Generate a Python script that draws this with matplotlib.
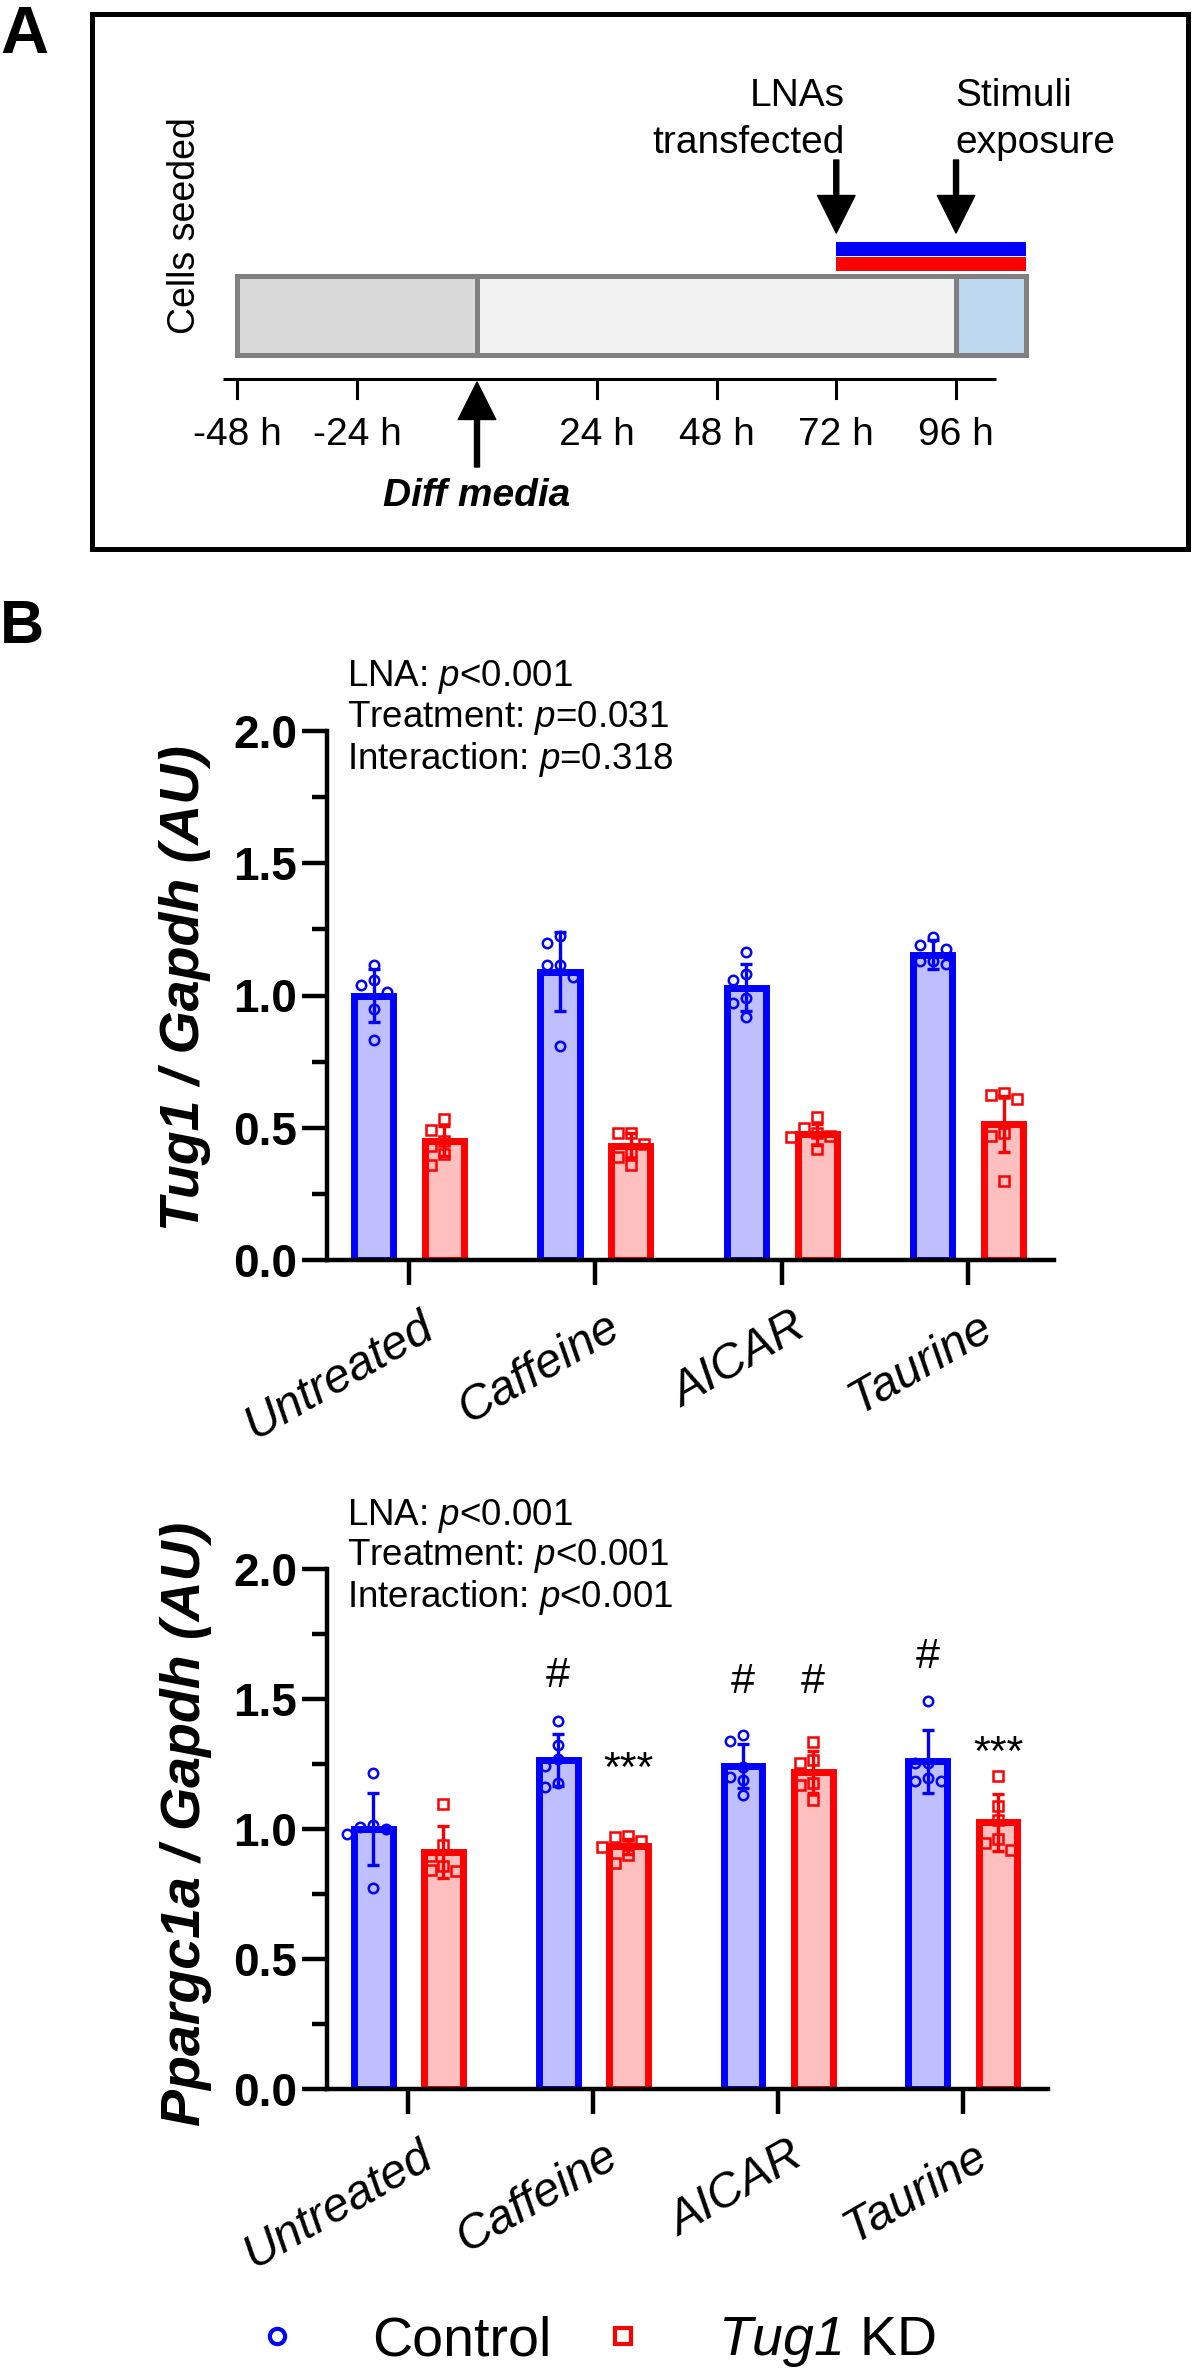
# Timeline schematic (A) and Tug1 / Ppargc1a expression bar charts (B)

import matplotlib
matplotlib.use("Agg")
import matplotlib.pyplot as plt
import matplotlib.transforms as mtransforms
from matplotlib.lines import Line2D
from matplotlib.patches import Rectangle
from matplotlib.ticker import FixedLocator, MultipleLocator
import numpy as np

plt.rcParams["font.family"] = ["Liberation Sans", "DejaVu Sans"]
plt.rcParams["mathtext.fontset"] = "custom"
plt.rcParams["mathtext.rm"] = "Liberation Sans"
plt.rcParams["mathtext.it"] = "Liberation Sans:italic"
plt.rcParams["mathtext.bf"] = "Liberation Sans:bold"
# italic digits too (mathtext keeps digits upright inside \mathit)
plt.rcParams["mathtext.sf"] = "Liberation Sans:italic"

# ---- data ----
treatments = ["Untreated", "Caffeine", "AICAR", "Taurine"]
y_ticks = [0.0, 0.5, 1.0, 1.5, 2.0]
y_tick_labels = ["0.0", "0.5", "1.0", "1.5", "2.0"]

timeline_ticks = [-48, -24, 24, 48, 72, 96]
seed_time = -48
diff_media_time = 0
lna_time = 72
stimuli_time = 96
end_time = 110

tug1_ctrl_mean = [1.00, 1.09, 1.03, 1.155]
tug1_ctrl_sd = [0.10, 0.15, 0.09, 0.055]
tug1_kd_mean = [0.45, 0.43, 0.475, 0.515]
tug1_kd_sd = [0.055, 0.05, 0.04, 0.105]
tug1_ctrl_points = [
    [1.116, 1.06, 1.04, 1.015, 0.95, 0.83],
    [1.225, 1.20, 1.116, 1.116, 1.07, 0.81],
    [1.165, 1.08, 1.06, 0.99, 0.97, 0.92],
    [1.22, 1.19, 1.176, 1.13, 1.12, 1.13],
]
tug1_kd_points = [
    [0.534, 0.49, 0.45, 0.43, 0.40, 0.36],
    [0.48, 0.48, 0.44, 0.41, 0.39, 0.36],
    [0.54, 0.50, 0.48, 0.47, 0.465, 0.42],
    [0.63, 0.624, 0.61, 0.48, 0.47, 0.30],
]
tug1_stats = ["LNA: $\\mathit{p}$<0.001",
              "Treatment: $\\mathit{p}$=0.031",
              "Interaction: $\\mathit{p}$=0.318"]

ppargc_ctrl_mean = [1.00, 1.264, 1.243, 1.26]
ppargc_ctrl_sd = [0.14, 0.10, 0.085, 0.12]
ppargc_kd_mean = [0.91, 0.933, 1.219, 1.026]
ppargc_kd_sd = [0.10, 0.03, 0.08, 0.11]
ppargc_ctrl_points = [
    [1.215, 1.017, 1.007, 1.00, 0.98, 0.773],
    [1.414, 1.324, 1.27, 1.241, 1.177, 1.16],
    [1.36, 1.34, 1.24, 1.20, 1.19, 1.13],
    [1.493, 1.254, 1.252, 1.196, 1.183, 1.183],
]
ppargc_kd_points = [
    [1.097, 0.94, 0.895, 0.859, 0.841, 0.837],
    [0.975, 0.97, 0.955, 0.93, 0.90, 0.87],
    [1.333, 1.267, 1.254, 1.177, 1.17, 1.113],
    [1.205, 1.09, 1.036, 0.96, 0.945, 0.92],
]
ppargc_stats = ["LNA: $\\mathit{p}$<0.001",
                "Treatment: $\\mathit{p}$<0.001",
                "Interaction: $\\mathit{p}$<0.001"]
# (series, treatment index, baseline value)
ppargc_hash = [("ctrl", 1, 1.548), ("ctrl", 2, 1.524), ("kd", 2, 1.524), ("ctrl", 3, 1.62)]
ppargc_stars = [("kd", 1, 1.186), ("kd", 3, 1.248)]

# ---- style ----
BLUE = "#0000FF"
BLUE_FILL = "#BFBFFF"
RED = "#FF0000"
RED_FILL = "#FFBFBF"
W, H = 1192, 2371
BAR_OFFSET = 0.19
BAR_WIDTH = 0.21


def fx(px):
    return px / W


def fy(py):
    return 1 - py / H


def swarm_slots(values, px_per_unit, step_px=13, diam_px=13):
    """Spread overlapping points sideways, like a column scatter."""
    values = np.asarray(values)
    order = np.argsort(values)[::-1]
    placed = []
    slots = np.zeros(len(values))
    for i in order:
        for slot in [0, -1, 1, -2, 2]:
            if all(np.hypot((slot - s) * step_px, (values[i] - v) * px_per_unit) >= diam_px
                   for s, v in placed):
                break
        placed.append((slot, values[i]))
        slots[i] = slot
    return slots


fig = plt.figure(figsize=(W / 100, H / 100), dpi=100)

# ---------------- Panel A ----------------
px0, px_per_h = 477, 4.99
ax_a = fig.add_axes([0, fy(560), 1, 560 / H])
ax_a.set_xlim((0 - px0) / px_per_h, (W - px0) / px_per_h)
ax_a.set_ylim(560, 0)
ax_a.axis("off")

fig.add_artist(Rectangle((fx(92), fy(549)), (1188 - 92) / W, (549 - 14) / H,
                         transform=fig.transFigure, fill=False, lw=3.6, ec="black"))

phases = [(seed_time, diff_media_time, "#D9D9D9"),
          (diff_media_time, stimuli_time, "#F2F2F2"),
          (stimuli_time, end_time, "#BDD7EE")]
for start, stop, col in phases:
    ax_a.add_patch(Rectangle((start, 275.5), stop - start, 79, fc=col, ec="#808080", lw=3.6))
ax_a.add_patch(Rectangle((lna_time, 242), end_time - lna_time, 14, fc=BLUE, lw=0))
ax_a.add_patch(Rectangle((lna_time, 257), end_time - lna_time, 14, fc=RED, lw=0))

ax_a.plot([-51, 104], [379, 379], color="black", lw=2.2, solid_capstyle="butt")
for t in timeline_ticks:
    ax_a.plot([t, t], [379, 398], color="black", lw=2.2)
    ax_a.text(t, 445, f"{t} h", ha="center", va="baseline", fontsize=28)

arrow = dict(facecolor="black", edgecolor="black", width=3.6, headwidth=27,
             headlength=27, shrink=0)
ax_a.annotate("", xy=(diff_media_time, 382), xytext=(diff_media_time, 467), arrowprops=arrow)
ax_a.annotate("", xy=(lna_time, 233), xytext=(lna_time, 160), arrowprops=arrow)
ax_a.annotate("", xy=(stimuli_time, 233), xytext=(stimuli_time, 160), arrowprops=arrow)

ax_a.text(lna_time + 1.6, 106, "LNAs", ha="right", va="baseline", fontsize=28)
ax_a.text(lna_time + 1.6, 153, "transfected", ha="right", va="baseline", fontsize=28)
ax_a.text(stimuli_time - 0.2, 106, "Stimuli", ha="left", va="baseline", fontsize=28)
ax_a.text(stimuli_time - 0.2, 153, "exposure", ha="left", va="baseline", fontsize=28)
ax_a.text(-58.5, 226, "Cells seeded", rotation=90, ha="center", va="center", fontsize=27)
ax_a.text(diff_media_time, 506, "Diff media", ha="center", va="baseline", fontsize=28,
          fontweight="bold", fontstyle="italic")

fig.text(0, fy(53), "A", fontsize=48, fontweight="bold", va="baseline", ha="left")
fig.text(0, fy(643), "B", fontsize=44, fontweight="bold", va="baseline", ha="left")


# ---------------- Panel B ----------------
def draw_chart(ax, ctrl_mean, ctrl_sd, ctrl_pts, kd_mean, kd_sd, kd_pts,
               ylabel, stats, label_y, px_per_unit, marks=(), stars=()):
    x = np.arange(len(treatments))
    series = [
        (x - BAR_OFFSET, ctrl_mean, ctrl_sd, ctrl_pts, BLUE, BLUE_FILL, "o"),
        (x + BAR_OFFSET, kd_mean, kd_sd, kd_pts, RED, RED_FILL, "s"),
    ]
    for xs, mean, sd, pts, col, fill, mk in series:
        ax.bar(xs, mean, width=BAR_WIDTH, color=fill, edgecolor=col, linewidth=5, zorder=2)
        ax.errorbar(xs, mean, yerr=sd, fmt="none", ecolor=col, elinewidth=2.4,
                    capsize=4.2, capthick=2.4, zorder=3)
        for xi, p in zip(xs, pts):
            slots = swarm_slots(p, px_per_unit)
            ax.plot(xi + slots * 0.07, p, mk, ms=6.8, mfc="none", mec=col, mew=1.8,
                    zorder=4, clip_on=False)

    ax.set_xlim(-0.44, 3.46)
    ax.set_ylim(0, 2.0)
    for side in ["top", "right"]:
        ax.spines[side].set_visible(False)
    for side in ["left", "bottom"]:
        ax.spines[side].set_linewidth(3.2)
    ax.yaxis.set_major_locator(FixedLocator(y_ticks))
    ax.set_yticklabels(y_tick_labels, fontsize=33, fontweight="bold")
    ax.yaxis.set_minor_locator(MultipleLocator(0.25))
    ax.tick_params(axis="y", which="major", length=18, width=3.2, pad=3.6)
    ax.tick_params(axis="y", which="minor", length=11, width=3.2)
    ax.set_xticks(x)
    ax.set_xticklabels(treatments, fontsize=34.5, fontstyle="italic", rotation=30,
                       ha="right", rotation_mode="anchor")
    ax.tick_params(axis="x", length=18, width=3.2, pad=14)
    shift = mtransforms.ScaledTranslation(0.10, 0, fig.dpi_scale_trans)
    for lab in ax.get_xticklabels():
        lab.set_transform(lab.get_transform() + shift)

    ax.text(-0.195, label_y, ylabel, transform=ax.transAxes, rotation=90,
            ha="center", va="center", fontsize=40, fontweight="bold", fontstyle="italic")

    blend = mtransforms.blended_transform_factory(ax.transAxes, ax.transData)
    for line, yv in zip(stats, [2.17, 2.015, 1.855]):
        ax.text(0.0275, yv, line, transform=blend, ha="left", va="baseline", fontsize=26.5)

    for group, idx, yv in marks:
        xm = idx - BAR_OFFSET if group == "ctrl" else idx + BAR_OFFSET
        ax.text(xm, yv, "#", ha="center", va="baseline", fontsize=31)
    for group, idx, yv in stars:
        xm = idx - BAR_OFFSET if group == "ctrl" else idx + BAR_OFFSET
        ax.text(xm, yv, "***", ha="center", va="baseline", fontsize=31)


ax1 = fig.add_axes([fx(327), fy(1260), (1054 - 327) / W, (1260 - 731) / H])
draw_chart(ax1, tug1_ctrl_mean, tug1_ctrl_sd, tug1_ctrl_points,
           tug1_kd_mean, tug1_kd_sd, tug1_kd_points,
           "Tug1 / Gapdh (AU)", tug1_stats, 0.515, 264)

ax2 = fig.add_axes([fx(327), fy(2089), (1048 - 327) / W, (2089 - 1569) / H])
draw_chart(ax2, ppargc_ctrl_mean, ppargc_ctrl_sd, ppargc_ctrl_points,
           ppargc_kd_mean, ppargc_kd_sd, ppargc_kd_points,
           "Ppargc1a / Gapdh (AU)", ppargc_stats, 0.51, 260,
           marks=ppargc_hash, stars=ppargc_stars)

handles = [
    Line2D([], [], ls="none", marker="o", ms=11, mfc="none", mec=BLUE, mew=3),
    Line2D([], [], ls="none", marker="s", ms=11, mfc="none", mec=RED, mew=3),
]
fig.legend(handles, ["Control", "$\\mathsf{Tug1}$ KD"], loc="center",
           bbox_to_anchor=(fx(579), fy(2342)), ncol=2, frameon=False, fontsize=40,
           handlelength=2, handletextpad=0.7, columnspacing=0.3, borderpad=0)

fig.savefig("out.png", dpi=100)
